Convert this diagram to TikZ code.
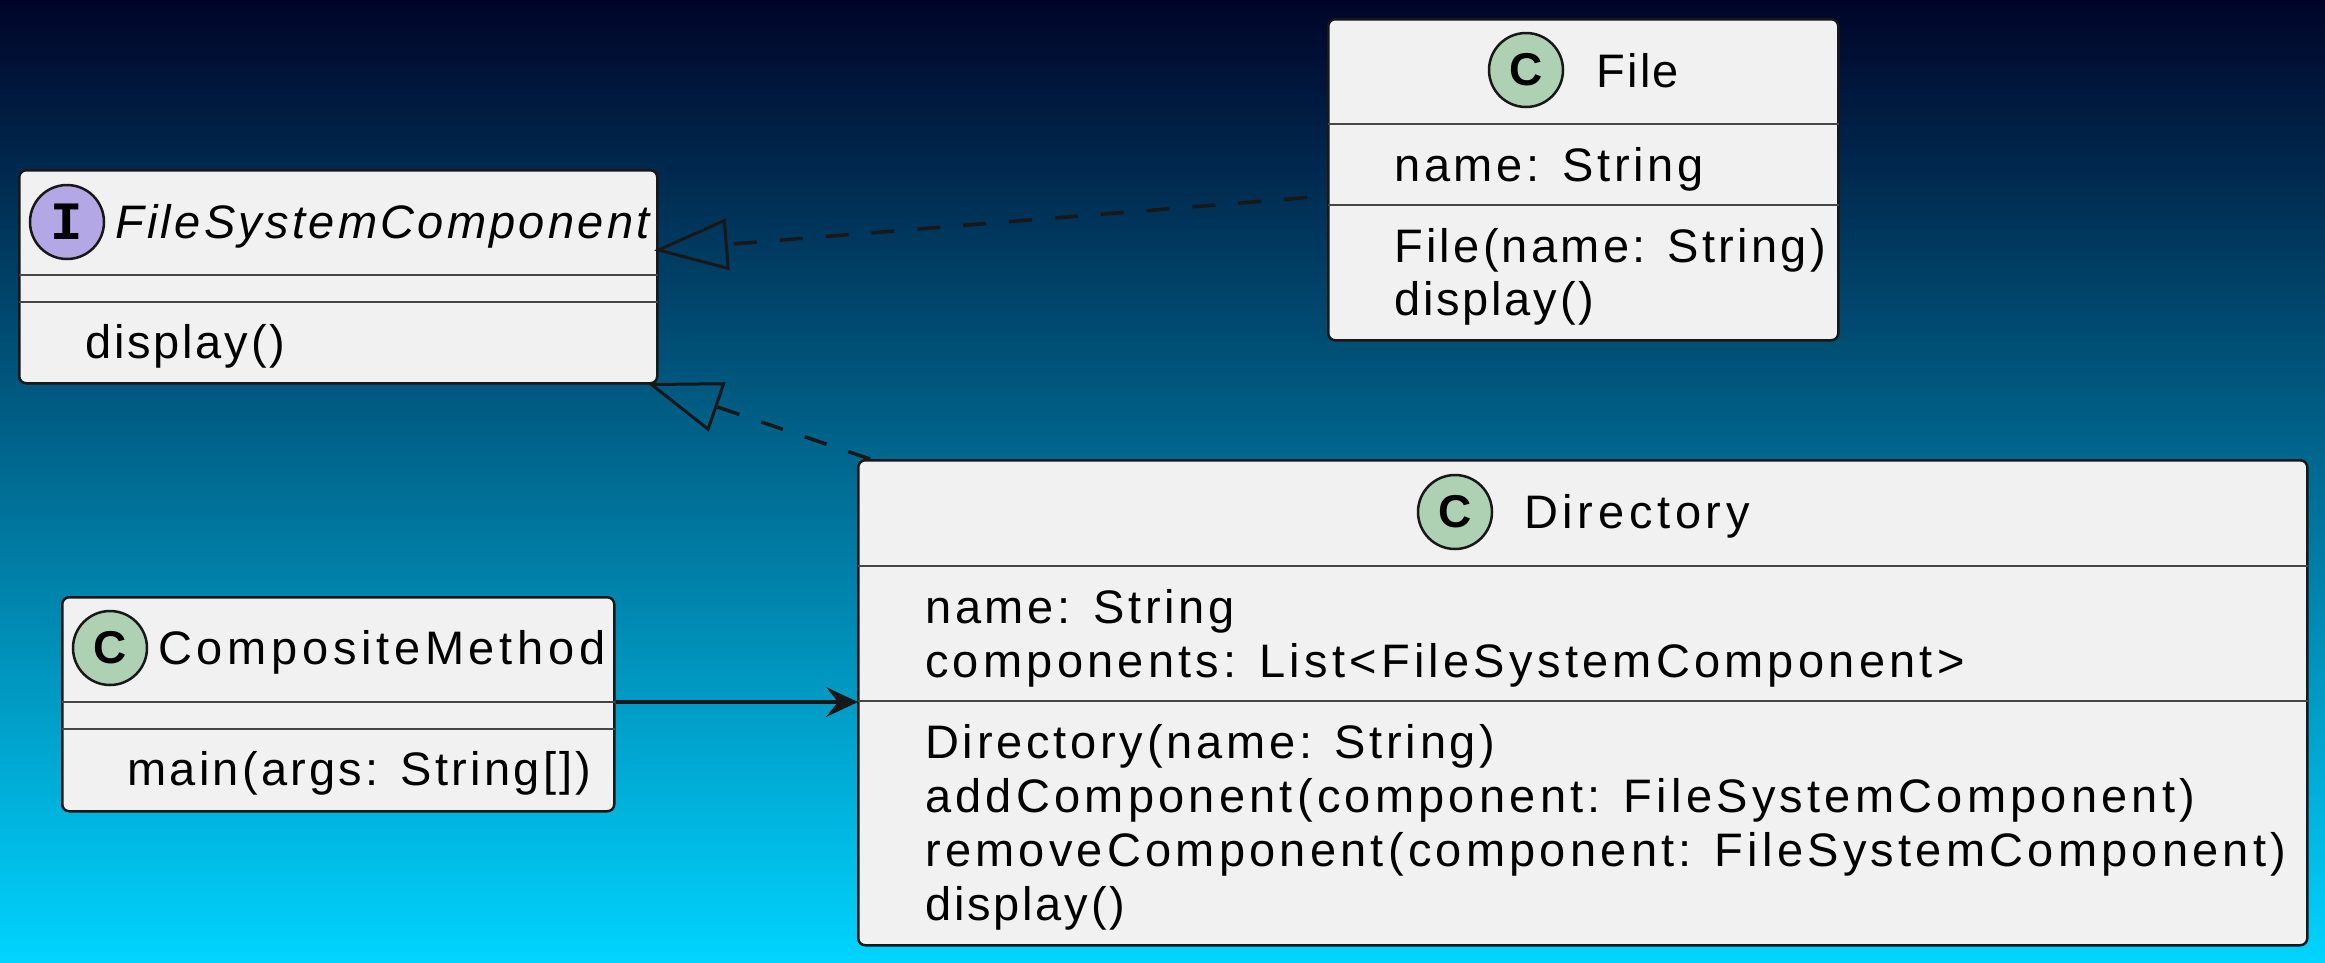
\documentclass[tikz,border=0pt]{standalone}
\usepackage{fontspec}
\setmainfont{Liberation Sans}[LetterSpace=9]
\newfontfamily\glyphfont{Liberation Sans}[BoldFont={Liberation Sans Bold}]
\newfontfamily\monoglyph{Liberation Mono}[BoldFont={Liberation Mono Bold}]
\usetikzlibrary{calc}
\definecolor{boxfill}{HTML}{F1F1F1}
\definecolor{boxline}{HTML}{181818}
\definecolor{divcol}{HTML}{464646}
\definecolor{ispot}{HTML}{B4A7E5}
\definecolor{cspot}{HTML}{ADD1B2}
\definecolor{bgtop}{HTML}{000428}
\definecolor{bgbot}{HTML}{00D4FF}
\begin{document}
\begin{tikzpicture}[x=1pt,y=-1pt,
  classbox/.style={draw=boxline, fill=boxfill, line width=2.5pt, rounded corners=7pt, inner sep=0pt, anchor=north west},
  txt/.style={anchor=base west, inner sep=0pt, font=\fontsize{47}{54}\selectfont\addfontfeatures{LetterSpace=#1}, text=black},
  txt/.default=9,
  spot/.style={circle, draw=boxline, line width=2.5pt, minimum size=74pt, inner sep=0pt, text=black},
  cglyph/.style={font=\fontsize{46}{46}\glyphfont\bfseries},
  iglyph/.style={font=\fontsize{54}{54}\monoglyph\bfseries},
  divider/.style={draw=divcol, line width=2pt},
  realize/.style={draw=boxline, line width=3.5pt, dash pattern=on 23pt off 23pt, dash phase=26pt},
  hollowtip/.style={draw=boxline, line width=3pt, line join=miter},
  assoc/.style={draw=boxline, line width=3.5pt}
]
% background
\fill[top color=bgtop, bottom color=bgbot] (0,0) rectangle (2325,962);
\useasboundingbox (0,0) rectangle (2325,962);

% ---------- FileSystemComponent ----------
\node[classbox, minimum width=638pt, minimum height=213pt] (fsc) at (18,169) {};
\draw[divider] ($(fsc.north west)+(1,106)$) -- ($(fsc.north east)+(-1,106)$);
\draw[divider] ($(fsc.north west)+(1,133)$) -- ($(fsc.north east)+(-1,133)$);
\node[spot, fill=ispot, iglyph] (fscspot) at (67,222) {I};
\node[txt=7] (fscname) at (115,238) {\itshape FileSystemComponent};
\node[txt=6] (fscm1) at (85,358) {display()};

% ---------- File ----------
\node[classbox, minimum width=510pt, minimum height=321pt] (file) at (1327,18) {};
\draw[divider] ($(file.north west)+(1,106)$) -- ($(file.north east)+(-1,106)$);
\draw[divider] ($(file.north west)+(1,187)$) -- ($(file.north east)+(-1,187)$);
\node[spot, fill=cspot, cglyph] (filespot) at (1526,70) {C};
\node[txt=5] (filename) at (1596,87) {File};
\node[txt=8] (filea1) at (1394,181) {name: String};
\node[txt=7] (filem1) at (1394,262) {File(name: String)};
\node[txt=6] (filem2) at (1394,315) {display()};

% ---------- Directory ----------
\node[classbox, minimum width=1449pt, minimum height=485pt] (dir) at (857,459) {};
\draw[divider] ($(dir.north west)+(1,107)$) -- ($(dir.north east)+(-1,107)$);
\draw[divider] ($(dir.north west)+(1,242)$) -- ($(dir.north east)+(-1,242)$);
\node[spot, fill=cspot, cglyph] (dirspot) at (1455,512) {C};
\node[txt=10] (dirname) at (1524,528) {Directory};
\node[txt=8] (dira1) at (925,623) {name: String};
\node[txt=9] (dira2) at (925,677) {components: List<FileSystemComponent>};
\node[txt=8] (dirm1) at (925,758) {Directory(name: String)};
\node[txt=9] (dirm2) at (925,812) {addComponent(component: FileSystemComponent)};
\node[txt=9] (dirm3) at (925,866) {removeComponent(component: FileSystemComponent)};
\node[txt=6] (dirm4) at (925,920) {display()};

% ---------- CompositeMethod ----------
\node[classbox, minimum width=552pt, minimum height=214pt] (cm) at (61,596) {};
\draw[divider] ($(cm.north west)+(1,106)$) -- ($(cm.north east)+(-1,106)$);
\draw[divider] ($(cm.north west)+(1,133)$) -- ($(cm.north east)+(-1,133)$);
\node[spot, fill=cspot, cglyph] (cmspot) at (110,648) {C};
\node[txt=10] (cmname) at (158,664) {CompositeMethod};
\node[txt=7] (cmm1) at (127,785) {main(args: String[])};

% ---------- File ..|> FileSystemComponent ----------
\coordinate (tipa) at ($(fsc.north east)+(0,81)$);
\coordinate (fromfile) at ($(file.north west)+(0,178)$);
\coordinate (basea) at ($(tipa)!68pt!(fromfile)$);
\draw[realize] (fromfile) -- (basea);
\draw[hollowtip] (tipa) -- ($(basea)!24pt!90:(tipa)$) -- ($(basea)!24pt!-90:(tipa)$) -- cycle;

% ---------- Directory ..|> FileSystemComponent ----------
\coordinate (tipb) at ($(fsc.south east)+(-7,0)$);
\coordinate (fromdir) at ($(dir.north west)+(13,0)$);
\coordinate (baseb) at ($(tipb)!68pt!(fromdir)$);
\draw[realize, dash phase=0pt] (fromdir) -- (baseb);
\draw[hollowtip] (tipb) -- ($(baseb)!24pt!90:(tipb)$) -- ($(baseb)!24pt!-90:(tipb)$) -- cycle;

% ---------- CompositeMethod --> Directory ----------
\coordinate (cmout) at ($(cm.north east)+(0,106)$);
\coordinate (dirin) at ($(dir.north west)+(1,243)$);
\draw[assoc] (cmout) -- ($(dirin)+(-16,0)$);
\fill[boxline] (dirin) -- ++(-32,-15) -- ++(12,15) -- ++(-12,15) -- cycle;
\end{tikzpicture}
\end{document}
